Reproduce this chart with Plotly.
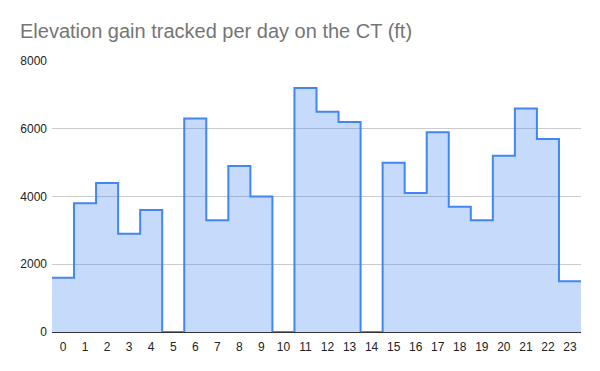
import plotly.graph_objects as go

days = list(range(24))
day_labels = [str(d) for d in days]
elevation_ft = [1600, 3800, 4400, 2900, 3600, 0, 6300, 3300, 4900, 4000, 0, 7200,
                6500, 6200, 0, 5000, 4100, 5900, 3700, 3300, 5200, 6600, 5700, 1500]
y_ticks = [0, 2000, 4000, 6000, 8000]

# step edges: each day occupies a band centred on its index
x_edges = [d - 0.5 for d in days] + [days[-1] + 0.5]
y_edges = elevation_ft + [elevation_ft[-1]]

FONT = "Arial"

fig = go.Figure()
fig.add_trace(go.Scatter(
    x=x_edges, y=y_edges, mode="lines", line_shape="hv",
    line=dict(color="#4285f4", width=2),
    fill="tozeroy", fillcolor="rgba(66,133,244,0.3)",
    hoverinfo="skip", showlegend=False,
))

fig.update_layout(
    width=600, height=371,
    margin=dict(l=52, r=19, t=61, b=39),
    paper_bgcolor="white", plot_bgcolor="white",
    font=dict(family=FONT, size=12, color="#222222"),
    title=dict(text="Elevation gain tracked per day on the CT (ft)",
               x=20/600, xref="container", xanchor="left",
               y=1 - 31/371, yref="container", yanchor="middle",
               font=dict(family=FONT, size=20, color="#757575")),
    xaxis=dict(range=[-0.5, 23.5], tickvals=days, ticktext=day_labels,
               showgrid=False, zeroline=False, showline=True,
               linecolor="#333333", linewidth=1, ticks="", fixedrange=True,
               ticklabelstandoff=4, tickfont=dict(family=FONT, size=12, color="#222222")),
    yaxis=dict(range=[0, 8000], tickvals=y_ticks, showgrid=True,
               gridcolor="#cccccc", gridwidth=1, zeroline=False,
               showline=False, ticks="", fixedrange=True, ticklabelstandoff=4,
               tickfont=dict(family=FONT, size=12, color="#222222")),
)

fig.write_html("out.html")
